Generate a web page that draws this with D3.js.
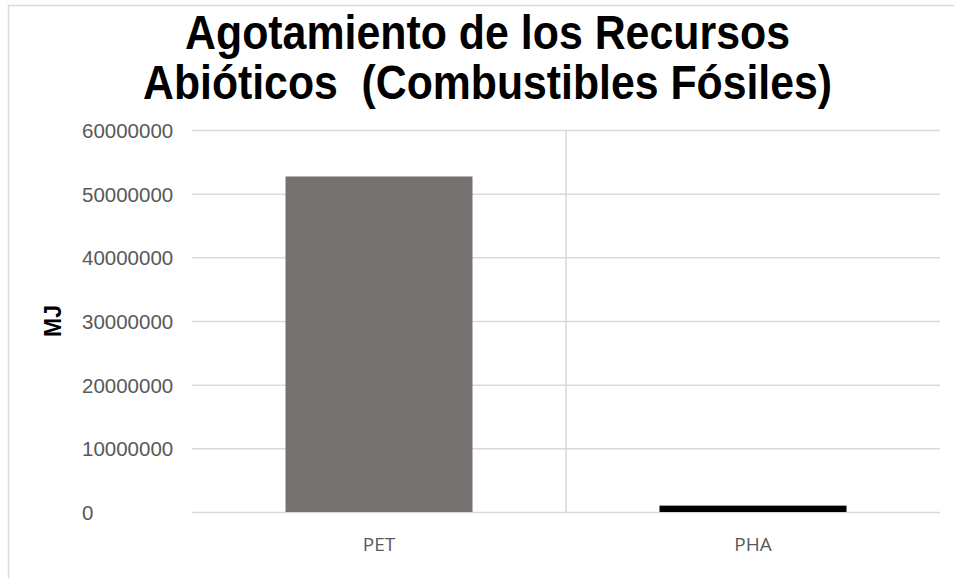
<!DOCTYPE html>
<html>
<head>
<meta charset="utf-8">
<script src="https://cdn.jsdelivr.net/npm/d3@7"></script>
<style>
  html, body { margin: 0; padding: 0; background: #fff; }
  svg { display: block; }
</style>
</head>
<body>
<svg id="chart" width="954" height="578"></svg>
<script>
// Fossil-fuel abiotic depletion, MJ
const categories = ["PET", "PHA"];
const values = [52700000, 1000000];
const barColors = ["#767171", "#000000"];
const yTicks = [0, 10000000, 20000000, 30000000, 40000000, 50000000, 60000000];
const titleLines = ["Agotamiento de los Recursos", "Abióticos  (Combustibles Fósiles)"];
const yTitle = "MJ";

const svg = d3.select("#chart");
const W = 954, H = 578;
const plot = { left: 192, right: 940, top: 130, bottom: 512 };

// chart frame
svg.append("path")
  .attr("d", `M${W},5.5 H8.5 V${H}`)
  .attr("fill", "none")
  .attr("stroke", "#d9d9d9")
  .attr("stroke-width", 1.5);

const x = d3.scaleBand()
  .domain(categories)
  .range([plot.left, plot.right])
  .paddingInner(0.5)
  .paddingOuter(0.25);

const y = d3.scaleLinear()
  .domain([0, 60000000])
  .range([plot.bottom, plot.top]);

// horizontal gridlines + tick labels (labels left-aligned in a column)
const labelLeft = 82;
const yAxis = d3.axisLeft(y)
  .tickValues(yTicks)
  .tickFormat(d3.format("d"))
  .tickSize(-(plot.right - plot.left));

const gy = svg.append("g")
  .attr("transform", `translate(${plot.left},0)`)
  .call(yAxis);
gy.select(".domain").remove();
gy.selectAll(".tick line").attr("stroke", "#d9d9d9").attr("stroke-width", 1.5);
gy.selectAll(".tick text")
  .attr("x", labelLeft - plot.left)
  .attr("text-anchor", "start")
  .attr("fill", "#595959")
  .attr("font-family", "'Liberation Sans', Arial, sans-serif")
  .attr("font-size", 20.5)
  .attr("dy", "0.36em");

// category separators
const step = x.step();
const seps = categories.slice(1).map(c => x(c) - x.paddingInner() * step / 2);
svg.append("g").selectAll("line")
  .data(seps)
  .join("line")
  .attr("x1", d => d).attr("x2", d => d)
  .attr("y1", plot.top).attr("y2", plot.bottom)
  .attr("stroke", "#d9d9d9").attr("stroke-width", 1.5);

// bars
svg.append("g").selectAll("rect")
  .data(categories.map((c, i) => ({ c, v: values[i], col: barColors[i] })))
  .join("rect")
  .attr("x", d => x(d.c))
  .attr("width", x.bandwidth())
  .attr("y", d => y(d.v))
  .attr("height", d => y(0) - y(d.v))
  .attr("fill", d => d.col);

// category labels
const xAxis = d3.axisBottom(x).tickSize(0).tickPadding(26);
const gx = svg.append("g")
  .attr("transform", `translate(0,${plot.bottom})`)
  .call(xAxis);
gx.select(".domain").remove();
gx.selectAll(".tick text")
  .attr("fill", "#595959")
  .attr("font-family", "'Open Sans', 'Liberation Sans', sans-serif")
  .attr("font-size", 19);

// y-axis title
svg.append("text")
  .attr("transform", "translate(53,321) rotate(-90)")
  .attr("text-anchor", "middle")
  .attr("dominant-baseline", "central")
  .attr("font-family", "'Liberation Sans', Arial, sans-serif")
  .attr("font-weight", "bold")
  .attr("font-size", 23)
  .attr("fill", "#000")
  .text(yTitle);

// title, set in a narrowed bold face
const titleWidths = [605, 689];
const titleBaselines = [49, 99];
svg.append("g").selectAll("text")
  .data(titleLines)
  .join("text")
  .attr("x", 487.5)
  .attr("y", (d, i) => titleBaselines[i])
  .attr("text-anchor", "middle")
  .attr("font-family", "'Liberation Sans', Arial, sans-serif")
  .attr("font-weight", "bold")
  .attr("font-size", 48)
  .attr("fill", "#000")
  .attr("textLength", (d, i) => titleWidths[i])
  .attr("lengthAdjust", "spacingAndGlyphs")
  .style("white-space", "pre")
  .text(d => d);
</script>
</body>
</html>
